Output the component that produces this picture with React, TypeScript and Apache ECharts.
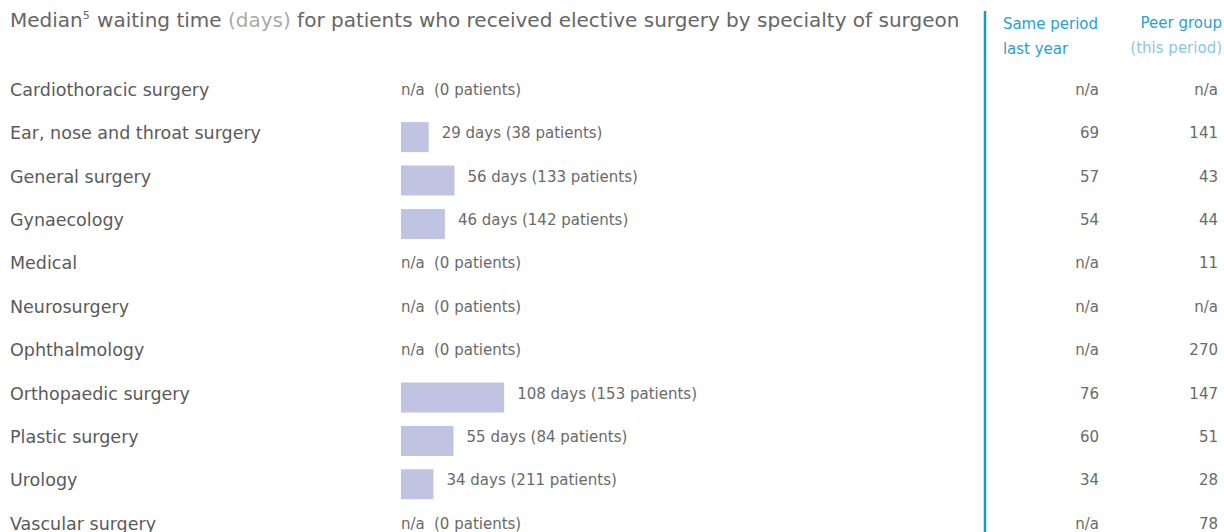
import React, { useEffect, useRef } from "react";
import * as echarts from "echarts";

const categories = [
  "Cardiothoracic surgery",
  "Ear, nose and throat surgery",
  "General surgery",
  "Gynaecology",
  "Medical",
  "Neurosurgery",
  "Ophthalmology",
  "Orthopaedic surgery",
  "Plastic surgery",
  "Urology",
  "Vascular surgery",
];
const medianDays: (number | null)[] = [null, 29, 56, 46, null, null, null, 108, 55, 34, null];
const patients = [0, 38, 133, 142, 0, 0, 0, 153, 84, 211, 0];
const lastYear = ["n/a", "69", "57", "54", "n/a", "n/a", "n/a", "76", "60", "34", "n/a"];
const peerGroup = ["n/a", "141", "43", "44", "11", "n/a", "270", "147", "51", "28", "78"];

const FONT = "DejaVu Sans, Liberation Sans, sans-serif";
const GRID_LEFT = 401;
const GRID_WIDTH = 382;
const GRID_RIGHT_X = GRID_LEFT + GRID_WIDTH;
const SHIFT = [0, 0, 8, 0];

export default function App() {
  const ref = useRef<HTMLDivElement>(null);
  useEffect(() => {
    if (!ref.current) return;
    const chart = echarts.init(ref.current, undefined, { renderer: "svg" });
    const labelColor = "#6a6a6a";
    const shifted = (color: string, size: number) => ({
      a: { fontSize: size, color, fontFamily: FONT, padding: SHIFT },
    });
    const option = {
      animation: false,
      textStyle: { fontFamily: FONT },
      graphic: [
        {
          type: "text",
          left: 10,
          top: 10,
          style: {
            text:
              "{a|Median}{sup|5}{a| waiting time }{b|(days)}{a| for patients who received elective surgery by specialty of surgeon}",
            rich: {
              a: { fontSize: 20, fill: "#666", fontFamily: FONT },
              sup: { fontSize: 11, fill: "#666", fontFamily: FONT, padding: [0, 1, 9, 0] },
              b: { fontSize: 20, fill: "#aaa", fontFamily: FONT },
            },
          },
        },
        {
          type: "text",
          right: 1224 - 1098,
          top: 11,
          style: {
            text: "Same period\nlast year",
            fontSize: 15,
            lineHeight: 25,
            fill: "#2a9fd0",
            align: "right",
            fontFamily: FONT,
          },
        },
        {
          type: "text",
          right: 2,
          top: 15,
          style: {
            text: "{a|Peer group}\n{b|(this period)}",
            align: "right",
            rich: {
              a: { fontSize: 15, lineHeight: 25, fill: "#2a9fd0", fontFamily: FONT, align: "right" },
              b: { fontSize: 15, lineHeight: 25, fill: "#85c7e5", fontFamily: FONT, align: "right" },
            },
          },
        },
        {
          type: "line",
          shape: { x1: 985, y1: 11, x2: 985, y2: 532 },
          style: { stroke: "#1b97c7", lineWidth: 2.5 },
        },
      ],
      grid: { left: GRID_LEFT, top: 72, width: GRID_WIDTH, height: 477.4 },
      xAxis: {
        type: "value",
        min: 0,
        max: 400,
        show: false,
      },
      yAxis: [
        {
          type: "category",
          inverse: true,
          data: categories,
          axisLine: { show: false },
          axisTick: { show: false },
          axisLabel: {
            align: "left",
            margin: GRID_LEFT - 10,
            formatter: (v: string) => `{a|${v}}`,
            rich: shifted("#5a5a5a", 17.5),
          },
        },
        {
          type: "category",
          inverse: true,
          position: "right",
          data: lastYear,
          axisLine: { show: false },
          axisTick: { show: false },
          axisLabel: {
            align: "right",
            margin: 1099 - GRID_RIGHT_X,
            formatter: (v: string) => `{a|${v}}`,
            rich: shifted(labelColor, 15),
          },
        },
        {
          type: "category",
          inverse: true,
          position: "right",
          data: peerGroup,
          axisLine: { show: false },
          axisTick: { show: false },
          axisLabel: {
            align: "right",
            margin: 1218 - GRID_RIGHT_X,
            formatter: (v: string) => `{a|${v}}`,
            rich: shifted(labelColor, 15),
          },
        },
      ],
      series: [
        {
          type: "bar",
          yAxisIndex: 0,
          barWidth: 30,
          itemStyle: { color: "#c0c3e2" },
          data: medianDays.map((v) =>
            v == null ? { value: 0, label: { distance: 0 } } : v
          ),
          label: {
            show: true,
            position: "right",
            distance: 13,
            formatter: (p: any) => {
              const i = p.dataIndex;
              const d = medianDays[i];
              if (d == null) return `{na|n/a}{t|(${patients[i]} patients)}`;
              return `{t|${d} days (${patients[i]} patients)}`;
            },
            rich: {
              na: { width: 33, fontSize: 15, color: labelColor, fontFamily: FONT, padding: SHIFT },
              t: { fontSize: 15, color: labelColor, fontFamily: FONT, padding: SHIFT },
            },
          },
        },
      ],
    };
    chart.setOption(option as any);
    return () => chart.dispose();
  }, []);
  return (
    <div
      ref={ref}
      style={{ position: "fixed", left: 0, top: 0, width: 1224, height: 560, background: "#fff" }}
    />
  );
}
